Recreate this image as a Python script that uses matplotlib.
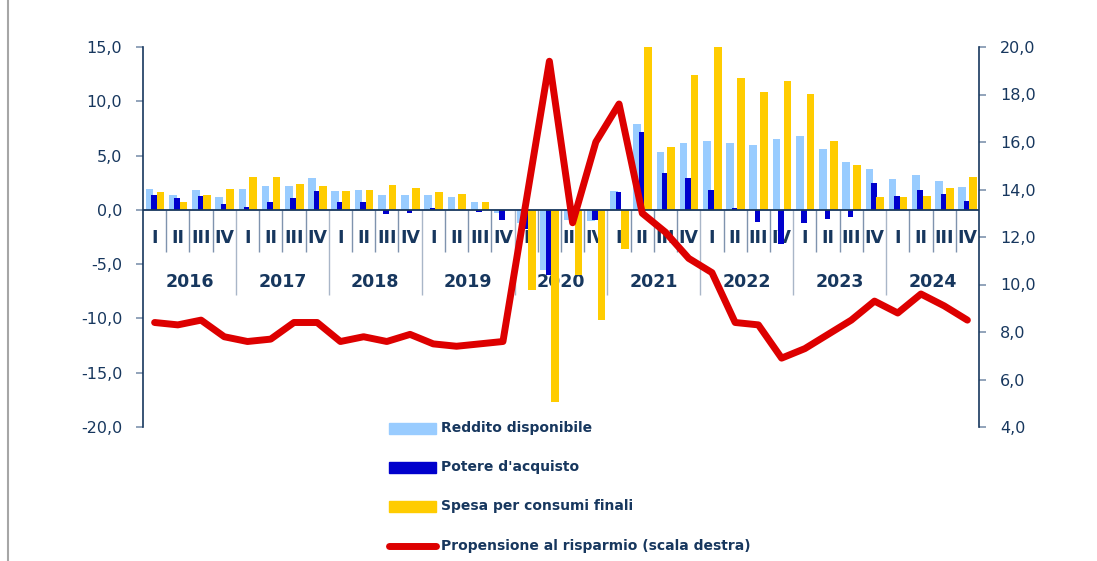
import matplotlib
matplotlib.use('Agg')
import matplotlib.pyplot as plt
import numpy as np
from matplotlib.ticker import FuncFormatter, MultipleLocator
from matplotlib.patches import Rectangle
from matplotlib.lines import Line2D

years = ['2016', '2017', '2018', '2019', '2020', '2021', '2022', '2023', '2024']
quarters = ['I', 'II', 'III', 'IV']

reddito = [1.9, 1.4, 1.8, 1.2, 1.9, 2.2, 2.2, 2.9, 1.7, 1.8, 1.4, 1.4,
           1.4, 1.2, 0.7, -0.25, -1.2, -5.5, -0.9, -1.0, 1.75, 7.9, 5.3, 6.2,
           6.3, 6.2, 6.0, 6.5, 6.8, 5.6, 4.4, 3.8, 2.8, 3.2, 2.7, 2.1]
potere = [1.4, 1.1, 1.3, 0.5, 0.3, 0.7, 1.1, 1.7, 0.7, 0.7, -0.35, -0.3,
          0.2, 0.0, -0.2, -0.9, -1.8, -6.0, -0.3, -0.9, 1.6, 7.15, 3.4, 2.9,
          1.8, 0.15, -1.1, -3.1, -1.2, -0.8, -0.7, 2.5, 1.3, 1.8, 1.5, 0.8]
spesa = [1.6, 0.7, 1.4, 1.9, 3.0, 3.0, 2.4, 2.2, 1.7, 1.8, 2.3, 2.0,
         1.6, 1.5, 0.7, 0.0, -7.4, -17.7, -6.0, -10.1, -3.6, 15.0, 5.8, 12.4,
         15.0, 12.1, 10.9, 11.9, 10.7, 6.3, 4.1, 1.2, 1.2, 1.3, 2.0, 3.0]
risparmio = [8.4, 8.3, 8.5, 7.8, 7.6, 7.7, 8.4, 8.4, 7.6, 7.8, 7.6, 7.9,
             7.5, 7.4, 7.5, 7.6, 13.5, 19.4, 12.6, 16.0, 17.6, 13.0, 12.2, 11.1,
             10.5, 8.4, 8.3, 6.9, 7.3, 7.9, 8.5, 9.3, 8.8, 9.6, 9.1, 8.5]

NAVY = '#17375E'
W, H = 1097, 561

fig = plt.figure(figsize=(W / 100, H / 100), dpi=100)
ax = fig.add_axes([143 / W, 1 - 427 / H, 836 / W, 380 / H])

x = np.arange(len(reddito))
ax.bar(x - 0.22, reddito, 0.33, color='#99CCFF', zorder=2)
ax.bar(x - 0.03, potere, 0.24, color='#0000CC', zorder=3)
ax.bar(x + 0.25, spesa, 0.33, color='#FFCC00', zorder=4)
ax.axhline(0, color=NAVY, lw=1.3, zorder=6)

ax.set_xlim(-0.5, len(x) - 0.5)
ax.set_ylim(-20, 15)
ax.yaxis.set_major_locator(MultipleLocator(5))
fmt = FuncFormatter(lambda v, _: f'{v:.1f}'.replace('.', ','))
ax.yaxis.set_major_formatter(fmt)
ax.tick_params(axis='y', direction='out', length=5, width=1.2, color='#7F93AE',
               labelcolor=NAVY, labelsize=11.5, pad=10)
ax.set_xticks([])
for s in ['top', 'bottom', 'right']:
    ax.spines[s].set_visible(False)
ax.spines['left'].set_color(NAVY)
ax.spines['left'].set_linewidth(1.2)

# multi-level category axis
for i in range(len(x)):
    ax.text(i, -2.58, quarters[i % 4], ha='center', va='center', fontsize=12.5,
            fontweight='bold', color=NAVY, zorder=1)
for k, yr in enumerate(years):
    ax.text(4 * k + 1.5, -6.63, yr, ha='center', va='center', fontsize=12.5,
            fontweight='bold', color=NAVY, zorder=1)
qsep = [i - 0.5 for i in range(1, len(x)) if i % 4 != 0]
ysep = [i - 0.5 for i in range(4, len(x), 4)]
ax.vlines(qsep, -3.9, 0, color='#7F93AE', lw=1.0, zorder=1)
ax.vlines(ysep, -7.8, 0, color='#A9B6C8', lw=1.0, zorder=1)

ax2 = ax.twinx()
ax2.plot(x, risparmio, color='#DD0000', lw=5, solid_capstyle='round',
         solid_joinstyle='round', zorder=5)
ax2.set_ylim(4, 20)
ax2.yaxis.set_major_locator(MultipleLocator(2))
ax2.yaxis.set_major_formatter(fmt)
ax2.tick_params(axis='y', direction='out', length=5, width=1.2, color='#7F93AE',
                labelcolor=NAVY, labelsize=11.5, pad=10)
for s in ['top', 'bottom', 'left']:
    ax2.spines[s].set_visible(False)
ax2.spines['right'].set_color(NAVY)
ax2.spines['right'].set_linewidth(1.2)

# legend (manual, figure pixel coords)
labels = ['Reddito disponibile', "Potere d'acquisto", 'Spesa per consumi finali',
          'Propensione al risparmio (scala destra)']
colors = ['#99CCFF', '#0000CC', '#FFCC00', '#DD0000']
rows = [428, 467, 506, 546]
for lab, c, ry in zip(labels, colors, rows):
    yf = 1 - ry / H
    if c == '#DD0000':
        fig.add_artist(Line2D([389 / W, 436 / W], [yf, yf], color=c, lw=5,
                              solid_capstyle='round', transform=fig.transFigure))
    else:
        fig.add_artist(Rectangle((389 / W, yf - 5.5 / H), 47 / W, 11 / H,
                                 color=c, transform=fig.transFigure))
    fig.text(441 / W, yf, lab, ha='left', va='center', fontsize=10,
             fontweight='bold', color=NAVY)

fig.add_artist(Line2D([8 / W, 8 / W], [0, 1], color='#A6A6A6', lw=1.5,
                      transform=fig.transFigure))

fig.savefig('out.png', dpi=100)
